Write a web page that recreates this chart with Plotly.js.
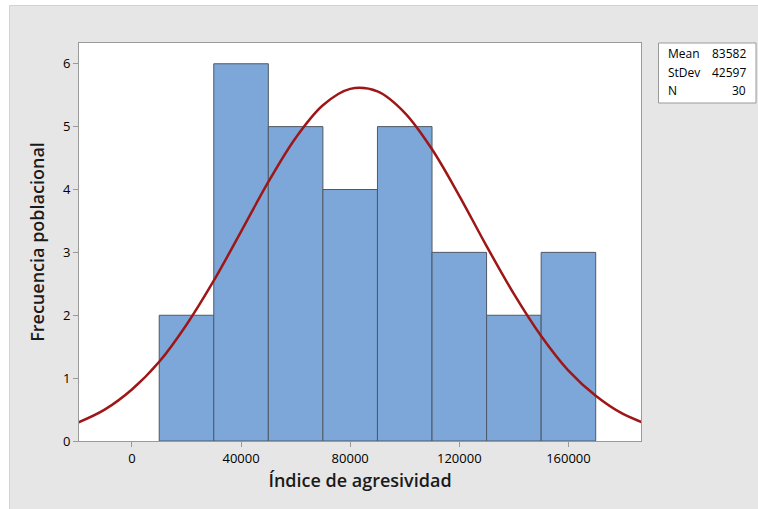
<!DOCTYPE html>
<html>
<head>
<meta charset="utf-8">
<script src="https://cdn.plot.ly/plotly-3.0.1.min.js"></script>
<style>html,body{margin:0;padding:0;background:#fff;}</style>
</head>
<body>
<div id="chart" style="width:758px;height:509px;"></div>
<script>
// Histogram bins (midpoints) and counts
var binMid = [20000, 40000, 60000, 80000, 100000, 120000, 140000, 160000];
var counts = [2, 6, 5, 4, 5, 3, 2, 3];
var binWidth = 20000;

// Fitted normal curve
var curveX = [-20000, -10000, 0, 10000, 20000, 30000, 40000, 50000, 60000, 70000, 80000, 90000, 100000, 110000, 120000, 130000, 140000, 150000, 160000, 170000, 180000, 190000];
var curveY = [0.29, 0.50, 0.82, 1.26, 1.85, 2.55, 3.33, 4.12, 4.82, 5.34, 5.60, 5.56, 5.22, 4.64, 3.90, 3.10, 2.34, 1.67, 1.12, 0.72, 0.43, 0.25];

// Summary table
var statLabels = ['Mean', 'StDev', 'N'];
var statValues = ['83582', '42597', '30'];

var xTicks = [0, 40000, 80000, 120000, 160000];
var yTicks = [0, 1, 2, 3, 4, 5, 6];

var FONT = 'Open Sans, Noto Sans, sans-serif';
var L = 79, R = 641, T = 43, B = 441;
function px(x) { return (x - L) / (R - L); }
function py(y) { return (B - y) / (B - T); }

var traces = [
  {
    type: 'bar', x: binMid, y: counts,
    width: binMid.map(function () { return binWidth; }),
    marker: { color: '#7ca7d8', line: { color: '#4f5965', width: 1 } },
    hoverinfo: 'x+y'
  },
  {
    type: 'scatter', mode: 'lines', x: curveX, y: curveY,
    line: { color: '#9e1616', width: 2.5, shape: 'spline' },
    hoverinfo: 'skip'
  }
];

var annotations = [];
var rowY = [54, 72.5, 90.5];
for (var i = 0; i < statLabels.length; i++) {
  annotations.push({ xref: 'paper', yref: 'paper', x: px(666), y: py(rowY[i]), xanchor: 'left', yanchor: 'middle',
    text: statLabels[i], showarrow: false, font: { family: FONT, size: 12, color: '#000' } });
  annotations.push({ xref: 'paper', yref: 'paper', x: px(748), y: py(rowY[i]), xanchor: 'right', yanchor: 'middle',
    text: statValues[i], showarrow: false, font: { family: FONT, size: 12, color: '#000' } });
}

var shapes = [
  { type: 'rect', xref: 'paper', yref: 'paper', x0: px(-20), x1: px(800), y0: py(5.5), y1: py(-20), fillcolor: '#ffffff', line: { width: 0 } },
  { type: 'rect', xref: 'paper', yref: 'paper', x0: px(-20), x1: px(9.5), y0: py(530), y1: py(-20), fillcolor: '#ffffff', line: { width: 0 } },
  { type: 'line', xref: 'paper', yref: 'paper', x0: px(9.5), x1: px(9.5), y0: py(530), y1: py(5.5), line: { color: '#d2d2d2', width: 1 } },
  { type: 'line', xref: 'paper', yref: 'paper', x0: px(9.5), x1: px(800), y0: py(5.5), y1: py(5.5), line: { color: '#d2d2d2', width: 1 } },
  { type: 'rect', xref: 'paper', yref: 'paper', x0: px(658.5), x1: px(756), y0: py(103), y1: py(43), fillcolor: '#ffffff', line: { color: '#9a9a9a', width: 1 } }
];

var layout = {
  width: 758, height: 509,
  margin: { l: L, r: 758 - R, t: T, b: 509 - B, pad: 0 },
  paper_bgcolor: '#e6e6e6',
  plot_bgcolor: '#ffffff',
  showlegend: false,
  bargap: 0,
  font: { family: FONT, size: 13, color: '#000' },
  xaxis: {
    range: [-19400, 186600], tickvals: xTicks, ticktext: xTicks.map(String),
    ticks: 'outside', ticklen: 5, tickcolor: '#9a9a9a', tickwidth: 1,
    showline: true, linecolor: '#9a9a9a', linewidth: 1, mirror: true,
    showgrid: false, zeroline: false,
    tickfont: { family: FONT, size: 13, color: '#000' },
    title: { text: 'Índice de agresividad', font: { family: FONT, size: 18, color: '#1a1a1a', weight: 600 }, standoff: 8 },
    automargin: false
  },
  yaxis: {
    range: [0, 6.33], tickvals: yTicks, ticktext: yTicks.map(String),
    ticks: 'outside', ticklen: 5, tickcolor: '#9a9a9a', tickwidth: 1,
    showline: true, linecolor: '#9a9a9a', linewidth: 1, mirror: true,
    showgrid: false, zeroline: false,
    tickfont: { family: FONT, size: 13, color: '#000' },
    title: { text: 'Frecuencia poblacional', font: { family: FONT, size: 18, color: '#1a1a1a', weight: 600 }, standoff: 13 },
    automargin: false
  },
  shapes: shapes,
  annotations: annotations
};

Plotly.newPlot('chart', traces, layout, { displayModeBar: false, staticPlot: true });
</script>
</body>
</html>
